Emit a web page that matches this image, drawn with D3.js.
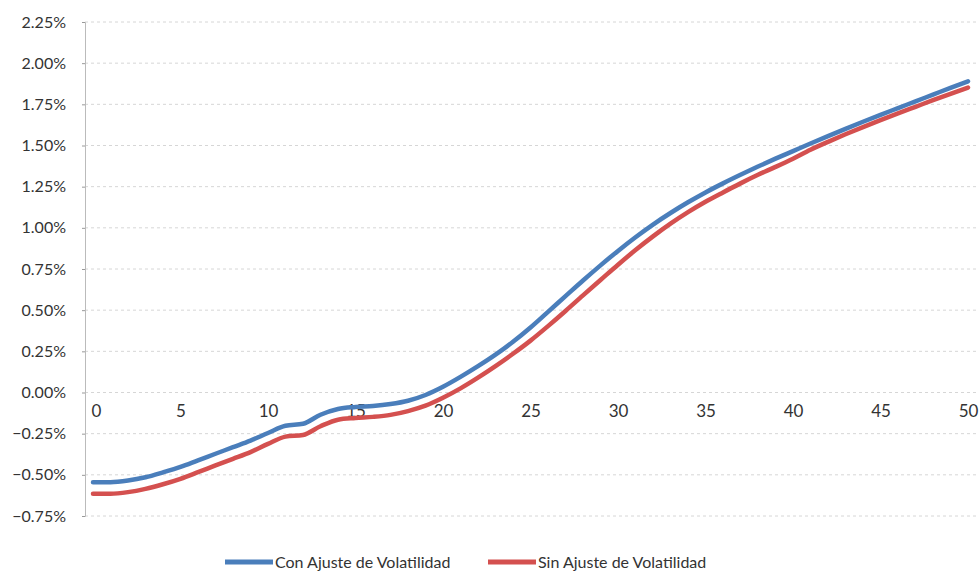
<!DOCTYPE html>
<html>
<head>
<meta charset="utf-8">
<script src="https://cdn.jsdelivr.net/npm/d3@7"></script>
<style>
    body { margin: 0; background: #fff; }
    svg text { font-family: Lato, "Open Sans", sans-serif; fill: #333; }
</style>
</head>
<body>
<div id="chart"></div>
<script>
// years 0..50
const years = d3.range(0, 51);
const conAjuste = [
    -0.545, -0.545, -0.535, -0.515, -0.485, -0.452, -0.412, -0.372, -0.332, -0.292,
    -0.246, -0.202, -0.190, -0.135, -0.100, -0.088, -0.082, -0.070, -0.050, -0.015,
    0.035, 0.095, 0.160, 0.230, 0.308, 0.395, 0.490, 0.585, 0.680, 0.772,
    0.860, 0.943, 1.020, 1.090, 1.155, 1.215, 1.270, 1.322, 1.372, 1.420,
    1.466, 1.512, 1.557, 1.601, 1.644, 1.686, 1.727, 1.768, 1.809, 1.850,
    1.890
];
const sinAjuste = [
    -0.615, -0.615, -0.605, -0.585, -0.557, -0.524, -0.484, -0.443, -0.403, -0.362,
    -0.312, -0.268, -0.258, -0.205, -0.165, -0.155, -0.148, -0.136, -0.113, -0.080,
    -0.032, 0.025, 0.090, 0.160, 0.235, 0.315, 0.403, 0.495, 0.590, 0.683,
    0.776, 0.865, 0.948, 1.025, 1.095, 1.158, 1.215, 1.270, 1.322, 1.370,
    1.420, 1.474, 1.522, 1.568, 1.612, 1.654, 1.695, 1.735, 1.775, 1.814,
    1.852
];
const yTicks = [-0.75, -0.5, -0.25, 0, 0.25, 0.5, 0.75, 1, 1.25, 1.5, 1.75, 2, 2.25];
const xTicks = [0, 5, 10, 15, 20, 25, 30, 35, 40, 45, 50];
const series = [
    { name: "Con Ajuste de Volatilidad", values: conAjuste, color: "#4a7ebb" },
    { name: "Sin Ajuste de Volatilidad", values: sinAjuste, color: "#d4504f" }
];

const width = 980, height = 578;
const svg = d3.select("#chart").append("svg")
    .attr("width", width)
    .attr("height", height);

const x = d3.scaleLinear().domain([0, 50]).range([93, 968]);
const y = d3.scaleLinear().domain([-0.75, 2.25]).range([516, 22]);

// gridlines
svg.append("g")
    .selectAll("line")
    .data(yTicks)
    .enter().append("line")
    .attr("x1", 85)
    .attr("x2", 976)
    .attr("y1", d => y(d))
    .attr("y2", d => y(d))
    .attr("stroke", "#d6d6d6")
    .attr("stroke-width", 1)
    .attr("stroke-dasharray", "3,3");

// y axis
const yAxis = svg.append("g")
    .attr("transform", "translate(85,0)")
    .call(d3.axisLeft(y).tickValues(yTicks).tickSize(3).tickPadding(16)
        .tickFormat(d => d3.format(".2f")(d) + "%"));
yAxis.select(".domain").attr("stroke", "#bbb");
yAxis.selectAll(".tick line").attr("stroke", "#999");
yAxis.selectAll("text").style("font-size", "16px").attr("fill", "#333");

// x labels sit on the zero line
const xAxis = svg.append("g")
    .attr("transform", `translate(0,${y(0)})`)
    .call(d3.axisBottom(x).tickValues(xTicks).tickSize(0).tickPadding(12));
xAxis.select(".domain").remove();
xAxis.selectAll("text").style("font-size", "17px").attr("fill", "#333")
    .attr("dx", d => d === 0 ? 3 : 0);

// lines
const line = d3.line()
    .x((d, i) => x(years[i]))
    .y(d => y(d))
    .curve(d3.curveMonotoneX);

svg.selectAll(".series")
    .data(series.slice().reverse())
    .enter().append("path")
    .attr("class", "series")
    .attr("d", d => line(d.values))
    .attr("fill", "none")
    .attr("stroke", d => d.color)
    .attr("stroke-width", 4.5)
    .attr("stroke-linejoin", "round")
    .attr("stroke-linecap", "round");

// legend
const legendX = [225, 488];
const legend = svg.append("g");
series.forEach((s, i) => {
    legend.append("line")
        .attr("x1", legendX[i])
        .attr("x2", legendX[i] + 48)
        .attr("y1", 562)
        .attr("y2", 562)
        .attr("stroke", s.color)
        .attr("stroke-width", 5);
    legend.append("text")
        .attr("x", legendX[i] + 50)
        .attr("y", 562)
        .attr("dy", "0.35em")
        .style("font-size", "16px")
        .attr("fill", "#333")
        .text(s.name);
});
</script>
</body>
</html>
